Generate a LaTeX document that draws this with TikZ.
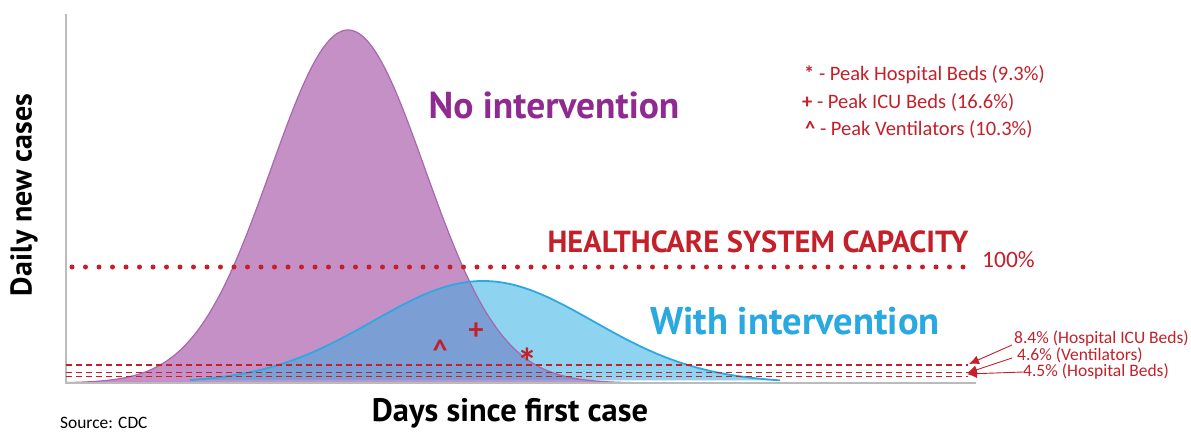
\documentclass[tikz,border=0pt]{standalone}
\usepackage{fontspec}
\setmainfont{Carlito}
\newfontfamily\myriad{PT Sans}
\usetikzlibrary{arrows.meta}
\definecolor{pfill}{HTML}{C590C6}
\definecolor{pline}{HTML}{A868AB}
\definecolor{bfill}{HTML}{8ED3F0}
\definecolor{bline}{HTML}{2EA9DF}
\definecolor{ofill}{HTML}{7B9ED5}
\definecolor{cred}{HTML}{C4202A}
\definecolor{ptext}{HTML}{8E2A90}
\definecolor{btext}{HTML}{2AA8E0}
\definecolor{axisgray}{HTML}{BBBBBB}
\tikzset{
  bigtitle/.style={font=\myriad\bfseries\fontsize{37.5}{37.5}\selectfont, inner sep=0pt},
  axlabel/.style={font=\myriad\bfseries\fontsize{31}{31}\selectfont, inner sep=0pt},
  legendtxt/.style={font=\fontsize{20.5}{20.5}\selectfont, text=cred, inner sep=0pt, anchor=west},
  smalllab/.style={font=\fontsize{17.5}{17.5}\selectfont, text=cred, inner sep=0pt, anchor=west},
  marker/.style={font=\bfseries\fontsize{30}{30}\selectfont, text=cred, inner sep=0pt},
  dashedline/.style={cred, line width=1.2pt, dash pattern=on 6pt off 4pt},
  dotline/.style={cred, line width=5pt, line cap=round, dash pattern=on 0pt off 13.5pt},
  pointer/.style={cred, line width=0.9pt, -{Latex[length=10pt,width=9pt]}}
}
\begin{document}
\begin{tikzpicture}[x=1pt,y=-1pt]
\useasboundingbox (0,0) rectangle (1191,431);
% curves
\def\purplecurve{plot[domain=66:650, samples=160] (\x, {383-353*exp(-0.5*((\x-348)/77)^2)})}
\def\bluecurve{plot[domain=190:780, samples=160] (\x, {383-102*exp(-0.5*((\x-483)/110)^2)})}
\fill[pfill] \purplecurve -- cycle;
\fill[bfill] \bluecurve -- cycle;
\begin{scope}
  \clip \purplecurve -- cycle;
  \fill[ofill] \bluecurve -- cycle;
\end{scope}
\draw[pline, line width=1.2pt] \purplecurve;
\draw[bline, line width=1.8pt] \bluecurve;
% axes
\coordinate (ytop) at (66,14);
\coordinate (origin) at (66,383);
\coordinate (xend) at (976,383);
\draw[axisgray, line width=1.5pt] (ytop) -- (origin) -- (xend);
% capacity line
\coordinate (capL) at (72,267);
\coordinate (capR) at (968,267);
\draw[dotline] (capL) -- (capR);
\node[bigtitle, font=\myriad\bfseries\fontsize{30.5}{30.5}\selectfont, text=cred] (hcap) at (758,242) {HEALTHCARE SYSTEM CAPACITY};
\node[legendtxt, font=\fontsize{23.5}{23.5}\selectfont] (pct) at (982,260) {100\%};
% dashed lines
\coordinate (d1L) at (66,365); \coordinate (d1R) at (968,365);
\coordinate (d2L) at (66,372.5); \coordinate (d2R) at (968,372.5);
\coordinate (d3L) at (66,376.5); \coordinate (d3R) at (968,376.5);
\draw[dashedline] (d1L) -- (d1R);
\draw[dashedline] (d2L) -- (d2R);
\draw[dashedline] (d3L) -- (d3R);
% titles
\node[bigtitle, text=ptext] (noint) at (554,105) {No intervention};
\node[bigtitle, text=btext, font=\myriad\bfseries\fontsize{38.5}{38.5}\selectfont] (withint) at (795,321) {With intervention};
% markers
\node[marker] (vent) at (440,350) {\textasciicircum};
\node[marker] (icu) at (476,331) {+};
\node[marker, font=\bfseries\fontsize{40}{40}\selectfont] (beds) at (527,362) {*};
% legend
\node[legendtxt] (leg1) at (804,75) {\textbf{*} - Peak Hospital Beds (9.3\%)};
\node[legendtxt] (leg2) at (802,102) {\textbf{+} - Peak ICU Beds (16.6\%)};
\node[legendtxt] (leg3) at (805,129) {\textbf{\textasciicircum} - Peak Ventilators (10.3\%)};
% right labels
\node[smalllab] (lab1) at (1014,339) {8.4\% (Hospital ICU Beds)};
\node[smalllab] (lab2) at (1017,355) {4.6\% (Ventilators)};
\node[smalllab] (lab3) at (1023,372) {4.5\% (Hospital Beds)};
\coordinate (t1) at (969,364);
\coordinate (t2) at (967,373);
\coordinate (t3) at (967,374);
\draw[pointer] (1012,345) -- (t1);
\draw[pointer] (1012,358) -- (t2);
\draw[pointer] (lab3.west) -- (t3);
% axis labels
\node[axlabel, rotate=90, font=\myriad\bfseries\fontsize{30}{30}\selectfont] (ylab) at (24,195) {Daily new cases};
\node[axlabel, font=\myriad\bfseries\fontsize{32.5}{32.5}\selectfont] (xlab) at (510,413) {Days since first case};
\node[legendtxt, text=black, font=\fontsize{17.4}{17.4}\selectfont] (src) at (60,423) {Source: CDC};
\end{tikzpicture}
\end{document}
